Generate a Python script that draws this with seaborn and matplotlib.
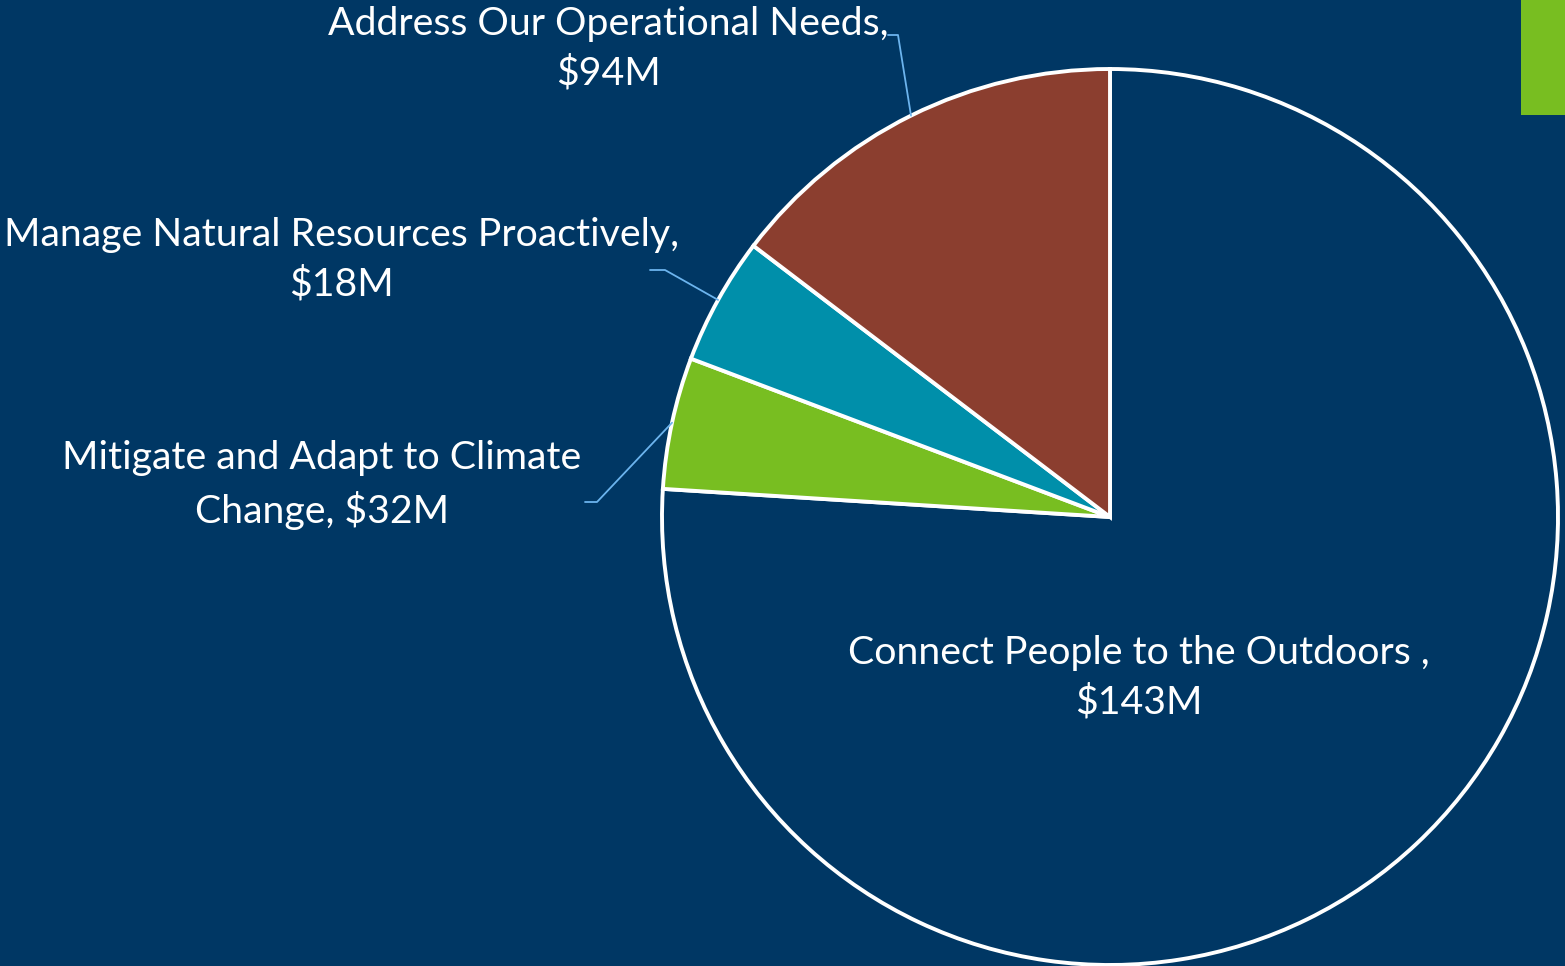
import numpy as np
import matplotlib.pyplot as plt
import seaborn as sns
from matplotlib.patches import Rectangle

# ==============================
# Data (slice shares, labels as printed)
# ==============================
categories = ["Connect People to the Outdoors ,",
              "Mitigate and Adapt to Climate\nChange,",
              "Manage Natural Resources Proactively,",
              "Address Our Operational Needs,"]
amount_labels = ["$143M", "$32M", "$18M", "$94M"]
slice_shares = [76.0, 4.75, 4.6, 14.65]

# ==============================
# Style
# ==============================
bg = "#003764"
sns.set_theme(style="white")
plt.rcParams["font.family"] = ["Lato", "DejaVu Sans"]
colors = [bg] + sns.color_palette(["#78BE21", "#008FAA", "#8B3E2F"])

W, H = 1565, 966
fig = plt.figure(figsize=(W / 100, H / 100), dpi=100, facecolor=bg)
ax = fig.add_axes([0, 0, 1, 1])
ax.set_facecolor(bg)

cx, cy, r = 1110, H - 517, 448
wedges, _ = ax.pie(slice_shares, colors=colors, startangle=90, counterclock=False,
                   center=(cx, cy), radius=r, frame=True,
                   wedgeprops=dict(edgecolor="white", linewidth=2.8))
ax.set_xlim(0, W)
ax.set_ylim(0, H)
ax.set_aspect("equal")
ax.axis("off")

# ==============================
# Labels
# ==============================
txt = dict(color="white", fontsize=28.3, ha="center", va="center", linespacing=1.45)

label_pos = [(1139, 678), (322, 485), (341, 260), (608, 49)]
elbows = [None, ((585, 502), (597, 502)), ((650, 270), (665, 270)), ((888, 35), (898, 35))]

for i, w in enumerate(wedges):
    name = categories[i]
    if "\n" in name:
        s = f"{name} {amount_labels[i]}"
    else:
        s = f"{name}\n{amount_labels[i]}"
    x, y = label_pos[i]
    ax.text(x, H - y, s, **txt)
    if elbows[i] is not None:
        mid = np.deg2rad((w.theta1 + w.theta2) / 2)
        ex, ey = cx + r * np.cos(mid), cy + r * np.sin(mid)
        (x0, y0), (x1, y1) = elbows[i]
        ax.plot([x0, x1, ex], [H - y0, H - y1, ey], color="#6CB4EE", lw=1.3, zorder=5)

# green accent bar top right
fig.add_artist(Rectangle((1521 / W, 1 - 115 / H), 44 / W, 115 / H,
                         transform=fig.transFigure, color="#78BE21", lw=0))

plt.savefig("out.png", dpi=100, facecolor=bg)
plt.close()
